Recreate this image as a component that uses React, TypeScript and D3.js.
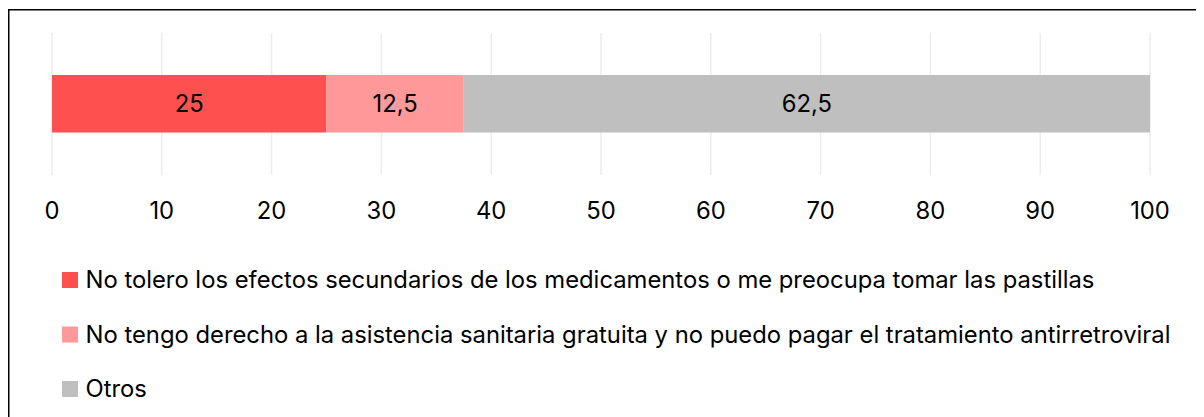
import React from "react";
import * as d3 from "d3";

const categories = [
  "No tolero los efectos secundarios de los medicamentos o me preocupa tomar las pastillas",
  "No tengo derecho a la asistencia sanitaria gratuita y no puedo pagar el tratamiento antirretroviral",
  "Otros",
];
const values = [25, 12.5, 62.5];
const valueLabels = ["25", "12,5", "62,5"];
const colors = ["#FF5050", "#FF9999", "#BFBFBF"];
const tickValues = [0, 10, 20, 30, 40, 50, 60, 70, 80, 90, 100];

const W = 1196;
const H = 409;
const FONT = "Inter, 'Liberation Sans', Arial, sans-serif";
const FS = 23.8;

export default function App() {
  const x = d3.scaleLinear().domain([0, 100]).range([44, 1142]);
  const barTop = 67;
  const barBottom = 124.5;
  const stack = values.reduce<{ start: number; end: number }[]>((acc, v) => {
    const start = acc.length ? acc[acc.length - 1].end : 0;
    acc.push({ start, end: start + v });
    return acc;
  }, []);
  const legendY0 = 264;
  const legendStep = 54.5;
  return (
    <svg width={W} height={H} style={{ display: "block" }} fontFamily={FONT}>
      <rect x={0} y={0} width={W} height={H} fill="#fff" />
      {tickValues.map((t) => (
        <line key={t} x1={x(t)} x2={x(t)} y1={25} y2={167} stroke="#EDEDED" strokeWidth={1.5} />
      ))}
      {stack.map((s, i) => (
        <g key={i}>
          <rect x={x(s.start)} y={barTop} width={x(s.end) - x(s.start)} height={barBottom - barTop} fill={colors[i]} />
          <text x={(x(s.start) + x(s.end)) / 2} y={(barTop + barBottom) / 2 + 8.5} textAnchor="middle" fontSize={FS} fill="#000">
            {valueLabels[i]}
          </text>
        </g>
      ))}
      {tickValues.map((t) => (
        <text key={t} x={x(t)} y={211} textAnchor="middle" fontSize={FS} fill="#000">
          {t}
        </text>
      ))}
      {categories.map((c, i) => (
        <g key={i}>
          <rect x={54} y={legendY0 + i * legendStep} width={16} height={16} fill={colors[i]} />
          <text x={77.5} y={legendY0 + i * legendStep + 16} fontSize={FS} fill="#000">
            {c}
          </text>
        </g>
      ))}
      <rect x={0.75} y={1.75} width={W + 20} height={H + 20} fill="none" stroke="#000" strokeWidth={1.5} />
    </svg>
  );
}
